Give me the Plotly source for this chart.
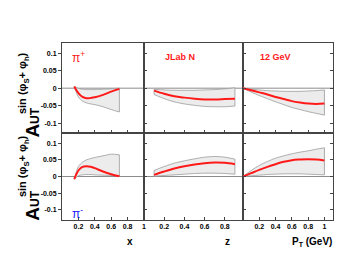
import plotly.graph_objects as go
from plotly.subplots import make_subplots

# ---- data ----
x_vals = [0.15, 0.2, 0.25, 0.3, 0.35, 0.4, 0.5, 0.6, 0.7]
pip_x_red = [0.005, -0.014, -0.025, -0.029, -0.028, -0.026, -0.019, -0.010, -0.002]
pip_x_up = [0.005, -0.001, -0.003, -0.004, -0.004, -0.004, -0.003, -0.002, 0.0]
pip_x_lo = [0.003, -0.025, -0.037, -0.042, -0.045, -0.047, -0.053, -0.061, -0.068]
pim_x_red = [-0.008, 0.018, 0.029, 0.031, 0.029, 0.025, 0.015, 0.007, 0.001]
pim_x_up = [-0.006, 0.030, 0.043, 0.050, 0.054, 0.057, 0.062, 0.067, 0.065]
pim_x_lo = [-0.008, 0.002, 0.005, 0.006, 0.006, 0.005, 0.004, 0.003, 0.001]

z_vals = [0.1, 0.2, 0.3, 0.4, 0.5, 0.6, 0.7, 0.8, 0.9]
pip_z_red = [-0.007, -0.016, -0.023, -0.027, -0.030, -0.032, -0.032, -0.031, -0.030]
pip_z_up = [-0.003, -0.005, -0.006, -0.006, -0.006, -0.005, -0.004, -0.002, 0.001]
pip_z_lo = [-0.018, -0.030, -0.039, -0.045, -0.049, -0.052, -0.053, -0.053, -0.051]
pim_z_red = [0.005, 0.015, 0.024, 0.031, 0.036, 0.040, 0.042, 0.041, 0.037]
pim_z_up = [0.018, 0.030, 0.040, 0.047, 0.053, 0.058, 0.060, 0.058, 0.052]
pim_z_lo = [0.001, 0.003, 0.005, 0.007, 0.009, 0.010, 0.010, 0.009, 0.007]

pt_vals = [0.0, 0.1, 0.2, 0.3, 0.4, 0.5, 0.6, 0.7, 0.8, 0.9, 1.0]
pip_pt_red = [0.0, -0.006, -0.012, -0.018, -0.025, -0.031, -0.037, -0.041, -0.044, -0.045, -0.044]
pip_pt_up = [0.0, -0.003, -0.005, -0.007, -0.008, -0.009, -0.009, -0.009, -0.008, -0.007, -0.005]
pip_pt_lo = [0.0, -0.011, -0.021, -0.030, -0.039, -0.047, -0.055, -0.061, -0.067, -0.072, -0.077]
pim_pt_red = [0.0, 0.010, 0.020, 0.029, 0.037, 0.044, 0.049, 0.051, 0.052, 0.051, 0.048]
pim_pt_up = [0.0, 0.018, 0.033, 0.045, 0.055, 0.062, 0.068, 0.073, 0.077, 0.082, 0.086]
pim_pt_lo = [0.0, 0.002, 0.004, 0.006, 0.007, 0.008, 0.008, 0.008, 0.007, 0.006, 0.005]

y_ticks = [0.1, 0.05, 0, -0.05, -0.1]
y_tick_text = ["0.1", "0.05", "0", "-0.05", "-0.1"]
x_ticks_col = [[0.2, 0.4, 0.6, 0.8, 1.0], [0.2, 0.4, 0.6, 0.8], [0.2, 0.4, 0.6, 0.8, 1.0]]
x_tick_text_col = [["0.2", "0.4", "0.6", "0.8", "1"], ["0.2", "0.4", "0.6", "0.8"],
                   ["0.2", "0.4", "0.6", "0.8", "1"]]
x_ranges = [[0, 1.0], [0, 0.98], [0, 1.105]]
y_ranges = [[-0.128, 0.129], [-0.1305, 0.1305]]

panels = {
    (1, 1): (x_vals, pip_x_red, pip_x_up, pip_x_lo),
    (2, 1): (x_vals, pim_x_red, pim_x_up, pim_x_lo),
    (1, 2): (z_vals, pip_z_red, pip_z_up, pip_z_lo),
    (2, 2): (z_vals, pim_z_red, pim_z_up, pim_z_lo),
    (1, 3): (pt_vals, pip_pt_red, pip_pt_up, pip_pt_lo),
    (2, 3): (pt_vals, pim_pt_red, pim_pt_up, pim_pt_lo),
}

FONT = "Liberation Sans, Arial, sans-serif"
BAND_LINE = dict(color="#9a9a9a", width=0.8, shape="spline", smoothing=0.8)

fig = make_subplots(rows=2, cols=3, column_widths=[82, 99, 90], row_heights=[90, 87],
                    horizontal_spacing=0, vertical_spacing=0)

for (r, c), (xs, red, up, lo) in panels.items():
    xr = x_ranges[c - 1]
    # zero line
    fig.add_trace(go.Scatter(x=xr, y=[0, 0], mode="lines",
                             line=dict(color="#8c8c8c", width=1), hoverinfo="skip",
                             showlegend=False), row=r, col=c)
    # band: lower then upper filled to it
    fig.add_trace(go.Scatter(x=xs, y=lo, mode="lines", line=BAND_LINE,
                             hoverinfo="skip", showlegend=False), row=r, col=c)
    fig.add_trace(go.Scatter(x=xs, y=up, mode="lines", line=BAND_LINE, fill="tonexty",
                             fillcolor="#ececec", hoverinfo="skip", showlegend=False),
                  row=r, col=c)
    # band end edges
    for i in (0, -1):
        fig.add_trace(go.Scatter(x=[xs[i], xs[i]], y=[lo[i], up[i]], mode="lines",
                                 line=dict(color="#9a9a9a", width=0.8), hoverinfo="skip",
                                 showlegend=False), row=r, col=c)
    fig.add_trace(go.Scatter(x=xs, y=red, mode="lines",
                             line=dict(color="#ff1a1a", width=2, shape="spline", smoothing=1.0),
                             showlegend=False), row=r, col=c)

for r in (1, 2):
    for c in (1, 2, 3):
        fig.update_xaxes(range=x_ranges[c - 1], tickvals=x_ticks_col[c - 1],
                         ticktext=x_tick_text_col[c - 1],
                         showticklabels=(r == 2), ticks="inside", ticklen=3,
                         tickcolor="#444", showgrid=False, zeroline=False,
                         showline=True, linecolor="#444", linewidth=1, mirror=True,
                         automargin=False,
                         tickfont=dict(family=FONT, size=7, color="black", weight="bold"),
                         row=r, col=c)
        fig.update_yaxes(range=y_ranges[r - 1], tickvals=y_ticks, ticktext=y_tick_text,
                         showticklabels=(c == 1), ticks=("outside" if c == 1 else "inside"),
                         ticklen=3, tickcolor="#444", showgrid=False, zeroline=False,
                         showline=True, linecolor="#444", linewidth=1,
                         mirror=("ticks" if c == 3 else True), automargin=False,
                         tickfont=dict(family=FONT, size=7, color="black", weight="bold"),
                         row=r, col=c)

ann = []
# y-axis titles built from three pieces (rotated)
for a_y, ut_y, s_y in ((0.505, 0.592, 0.775), (0.036, 0.123, 0.306)):
    ann.append(dict(text="A", xref="paper", yref="paper", x=-0.107, y=a_y,
                    xanchor="center", yanchor="middle", textangle=-90, showarrow=False,
                    font=dict(family=FONT, size=19, color="black", weight="bold")))
    ann.append(dict(text="UT", xref="paper", yref="paper", x=-0.097, y=ut_y,
                    xanchor="center", yanchor="middle", textangle=-90, showarrow=False,
                    font=dict(family=FONT, size=12, color="black", weight="bold")))
    ann.append(dict(text="sin (φ<sub>S</sub>+ φ<sub>h</sub>)", xref="paper", yref="paper",
                    x=-0.143, y=s_y, xanchor="center", yanchor="middle", textangle=-90,
                    showarrow=False,
                    font=dict(family=FONT, size=11, color="black", weight="bold")))

ann.append(dict(text="π<sup>+</sup>", xref="x", yref="y", x=0.1, y=0.089, xanchor="left",
                yanchor="middle", showarrow=False,
                font=dict(family=FONT, size=12, color="#ff1a1a")))
ann.append(dict(text="JLab N", xref="x2", yref="y2", x=0.19, y=0.089, xanchor="left",
                yanchor="middle", showarrow=False,
                font=dict(family=FONT, size=9, color="#ff1a1a", weight="bold")))
ann.append(dict(text="12 GeV", xref="x3", yref="y3", x=0.19, y=0.089, xanchor="left",
                yanchor="middle", showarrow=False,
                font=dict(family=FONT, size=9, color="#ff1a1a", weight="bold")))
ann.append(dict(text="π<sup>-</sup>", xref="x4", yref="y4", x=0.1, y=-0.108, xanchor="left",
                yanchor="middle", showarrow=False,
                font=dict(family=FONT, size=12, color="#1a1aff")))

for txt, xp in (("x", 0.251), ("z", 0.6125), ("P<sub>T</sub> (GeV)", 0.922)):
    ann.append(dict(text=txt, xref="paper", yref="paper", x=xp, y=-0.124,
                    xanchor="center", yanchor="middle", showarrow=False,
                    font=dict(family=FONT, size=10, color="black", weight="bold")))

# margins compensate for the page's default 8px body margin
fig.update_layout(width=355, height=274, margin=dict(l=54, r=30, t=35, b=62),
                  paper_bgcolor="white", plot_bgcolor="white", annotations=ann,
                  showlegend=False)

fig.write_html("out.html")
